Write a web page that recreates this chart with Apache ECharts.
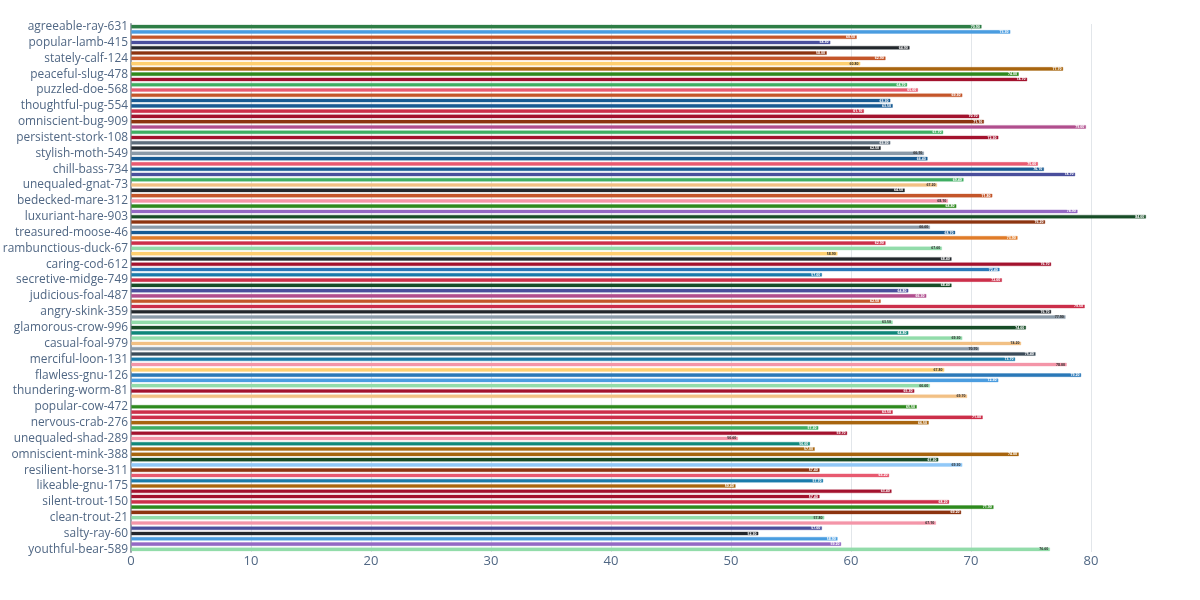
<!DOCTYPE html>
<html>
<head>
<meta charset="utf-8">
<title>bars</title>
<script src="https://cdn.jsdelivr.net/npm/echarts@6/dist/echarts.min.js"></script>
<style>
  html, body { margin: 0; padding: 0; background: #fff; }
  #chart { width: 1200px; height: 600px; }
</style>
</head>
<body>
<div id="chart"></div>
<script>
   // category names, top to bottom (only every 3rd one is labelled on the axis)
   var names = [
       'agreeable-ray-631', 'witty-owl-202', 'brave-lynx-88',
       'popular-lamb-415', 'gentle-yak-377', 'quiet-crane-51',
       'stately-calf-124', 'nimble-hawk-640', 'jolly-wren-913',
       'peaceful-slug-478', 'sunny-mole-27', 'tidy-fox-705',
       'puzzled-doe-568', 'eager-bat-310', 'plucky-eel-842',
       'thoughtful-pug-554', 'calm-toad-19', 'zesty-ram-436',
       'omniscient-bug-909', 'humble-seal-263', 'lively-kiwi-71',
       'persistent-stork-108', 'proud-mink-590', 'merry-crab-384',
       'stylish-moth-549', 'keen-goat-702', 'vivid-swan-156',
       'chill-bass-734', 'bold-newt-821', 'fancy-pony-33',
       'unequaled-gnat-73', 'swift-orca-497', 'mellow-ant-268',
       'bedecked-mare-312', 'clever-asp-615', 'dapper-cod-94',
       'luxuriant-hare-903', 'frank-lark-448', 'cosmic-ibis-172',
       'treasured-moose-46', 'breezy-wolf-539', 'loyal-gull-806',
       'rambunctious-duck-67', 'shy-bison-351', 'rapid-hen-720',
       'caring-cod-612', 'fuzzy-dove-286', 'noble-tern-967',
       'secretive-midge-749', 'spry-lemur-133', 'silly-koi-584',
       'judicious-foal-487', 'warm-tapir-39', 'grand-puma-668',
       'angry-skink-359', 'smooth-finch-812', 'hardy-mule-205',
       'glamorous-crow-996', 'perky-vole-457', 'steady-elk-73',
       'casual-foal-979', 'amber-squid-329', 'hasty-quail-614',
       'merciful-loon-131', 'polite-otter-850', 'rustic-gecko-22',
       'flawless-gnu-126', 'dandy-robin-543', 'tender-shrew-398',
       'thundering-worm-81', 'wise-panda-760', 'mighty-carp-15',
       'popular-cow-472', 'lucky-heron-937', 'brisk-stoat-281',
       'nervous-crab-276', 'sleek-ferret-664', 'zany-moose-109',
       'unequaled-shad-289', 'happy-rook-523', 'cozy-lizard-870',
       'omniscient-mink-388', 'snug-raven-47', 'giddy-boar-731',
       'resilient-horse-311', 'neat-hyena-196', 'fierce-tuna-402',
       'likeable-gnu-175', 'royal-snail-958', 'crisp-mantis-64',
       'silent-trout-150', 'deft-beaver-577', 'jaunty-cobra-813',
       'clean-trout-21', 'kind-badger-339', 'wild-pelican-692',
       'salty-ray-60', 'prime-jackal-245', 'bright-bee-508',
       'youthful-bear-589'
   ];

   // values (index 71 has no bar)
   var values = [
       70.9, 73.3, 60.5, 58.3, 64.9, 58.0, 62.9, 60.8, 77.7, 74.0,
       74.7, 64.7, 65.6, 69.3, 63.3, 63.5, 61.1, 70.7, 71.1, 79.6,
       67.7, 72.3, 63.3, 62.5, 66.1, 66.4, 75.6, 76.1, 78.7, 69.4,
       67.2, 64.5, 71.8, 68.1, 68.8, 78.9, 84.6, 76.2, 66.6, 68.7,
       73.9, 62.9, 67.6, 58.9, 68.4, 76.7, 72.4, 57.6, 72.6, 68.4,
       64.8, 66.3, 62.5, 79.5, 76.7, 77.9, 63.5, 74.6, 64.8, 69.3,
       74.2, 70.7, 75.4, 73.7, 78.0, 67.8, 79.2, 72.3, 66.6, 65.3,
       69.7, null, 65.5, 63.5, 71.0, 66.5, 57.3, 59.7, 50.6, 56.6,
       57.0, 74.0, 67.3, 69.3, 57.4, 63.2, 57.7, 50.4, 63.4, 57.4,
       68.2, 71.9, 69.2, 57.8, 67.1, 57.6, 52.3, 58.9, 59.2, 76.6
   ];

   var xTicks = [0, 10, 20, 30, 40, 50, 60, 70, 80];

   var pal = {
       dgreen: '#2e7d46', sky: '#4a9de0', rust: '#c4562a', indigo: '#4a4f9c',
       charcoal: '#23282d', brown: '#8c3410', yellow: '#ffd070', gold: '#a8650f',
       green: '#2e8a1e', crimson: '#a3122e', jade: '#3fae62', pink: '#e85a70',
       navy: '#175a92', red: '#cc2f4a', magenta: '#b04e8e', slate: '#5d6d7c',
       gray: '#8a9aa8', purple: '#9468c4', forest: '#184d28', orange: '#e07b28',
       mint: '#92dcaa', ltpink: '#f495a8', peach: '#f2c084', blue2: '#1a7bab',
       teal: '#0f877a', dslate: '#3a4a58', blue3: '#2b78b8', ltblue: '#90c8f8'
   };
   var barColors = [
       'dgreen', 'sky', 'rust', 'indigo', 'charcoal', 'brown', 'rust', 'yellow', 'gold', 'green',
       'crimson', 'jade', 'pink', 'rust', 'navy', 'navy', 'red', 'crimson', 'brown', 'magenta',
       'jade', 'crimson', 'slate', 'charcoal', 'gray', 'navy', 'pink', 'navy', 'indigo', 'jade',
       'peach', 'charcoal', 'rust', 'ltpink', 'green', 'purple', 'forest', 'brown', 'gray', 'navy',
       'orange', 'red', 'mint', 'yellow', 'charcoal', 'crimson', 'blue3', 'blue2', 'red', 'forest',
       'indigo', 'magenta', 'rust', 'red', 'charcoal', 'gray', 'mint', 'forest', 'teal', 'mint',
       'peach', 'gray', 'dslate', 'blue2', 'ltpink', 'yellow', 'blue3', 'sky', 'mint', 'crimson',
       'peach', 'gray', 'green', 'red', 'red', 'gold', 'jade', 'crimson', 'ltpink', 'teal',
       'gold', 'gold', 'forest', 'ltblue', 'brown', 'pink', 'blue2', 'gold', 'crimson', 'crimson',
       'red', 'green', 'brown', 'mint', 'ltpink', 'indigo', 'charcoal', 'sky', 'purple', 'mint'
   ].map(function (k) { return pal[k]; });

   function isLight(hex) {
       var r = parseInt(hex.substr(1, 2), 16), g = parseInt(hex.substr(3, 2), 16), b = parseInt(hex.substr(5, 2), 16);
       return (0.299 * r + 0.587 * g + 0.114 * b) > 150;
   }

   var chart = echarts.init(document.getElementById('chart'), null, { renderer: 'canvas' });

   var barData = values.map(function (v, i) {
       var c = barColors[i];
       return {
           value: v,
           itemStyle: { color: c, borderColor: c + '55' },
           label: { color: isLight(c) ? '#333' : '#fff' }
       };
   });

   var option = {
       animation: false,
       textStyle: { fontFamily: '"Open Sans", Verdana, Arial, sans-serif' },
       grid: { left: 131, right: 25, top: 24, bottom: 48, containLabel: false, outerBoundsMode: 'none' },
       xAxis: {
           type: 'value',
           min: 0,
           max: 87,
           interval: 10,
           axisLine: { show: false },
           axisTick: { show: false },
           axisLabel: {
               color: '#506784',
               fontSize: 13,
               margin: 3,
               showMaxLabel: false,
               formatter: function (v) { return xTicks.indexOf(v) >= 0 ? String(v) : ''; }
           },
           splitLine: { show: true, showMinLine: false, showMaxLine: false, lineStyle: { color: '#e2e6ea', width: 1 } }
       },
       yAxis: {
           type: 'category',
           inverse: true,
           data: names,
           axisLine: { show: true, lineStyle: { color: '#9ba3ab', width: 2 } },
           axisTick: { show: false },
           axisLabel: {
               interval: 2,
               color: '#506784',
               fontSize: 11.9,
               margin: 3
           },
           splitLine: { show: false }
       },
       series: [{
           type: 'bar',
           data: barData,
           barWidth: '78%',
           itemStyle: { borderWidth: 1 },
           label: {
               show: true,
               position: 'insideRight',
               distance: 2,
               fontSize: 3.5,
               fontWeight: 'bold',
               formatter: function (p) { return p.value == null ? '' : p.value.toFixed(2); }
           }
       }]
   };
   chart.setOption(option);
   window.onresize = function () {
       chart.resize();
   };
</script>
</body>
</html>
